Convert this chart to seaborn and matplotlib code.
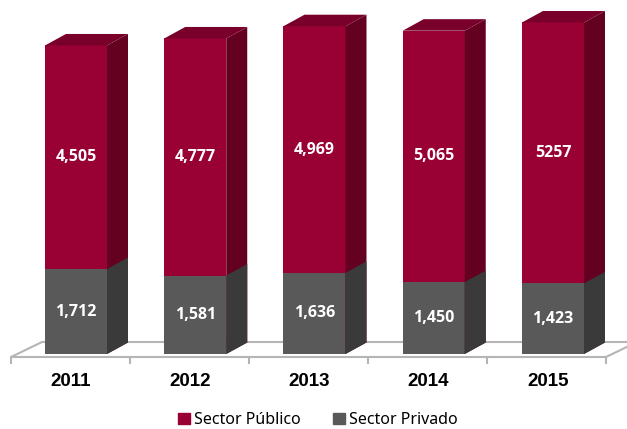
import pandas as pd
import numpy as np
import seaborn as sns
from matplotlib import pyplot as plt
from matplotlib.patches import Polygon, Patch

years = ['2011', '2012', '2013', '2014', '2015']
publico = [4505, 4777, 4969, 5065, 5257]
privado = [1712, 1581, 1636, 1450, 1423]
publico_labels = ['4,505', '4,777', '4,969', '5,065', '5257']
privado_labels = ['1,712', '1,581', '1,636', '1,450', '1,423']

df = pd.DataFrame({'year': years, 'publico': publico, 'privado': privado})
df['total'] = df['publico'] + df['privado']

rojo, rojo_lado, rojo_top = '#990033', '#640020', '#78002a'
gris, gris_lado = '#595959', '#3a3a3a'

fig = plt.figure(figsize=(6.27, 4.29), dpi=100)
ax = fig.add_axes([0, 0, 1, 1])

# barras apiladas: total en rojo, privado encima en gris
sns.barplot(data=df, x='year', y='total', color=rojo, saturation=1, width=0.52,
            linewidth=0, ax=ax, zorder=3)
sns.barplot(data=df, x='year', y='privado', color=gris, saturation=1, width=0.52,
            linewidth=0, ax=ax, zorder=3)
bars = list(ax.patches)

upp = 20.15           # unidades por pixel en y
dx, dy = 0.176, 11.5 * upp   # profundidad del efecto 3d
off = -0.045

# piso
fy, by = -3 * upp, 12 * upp
x0, x1 = -0.5 + off, 4.5 + off - 0.01
piso = Polygon([(x0, fy), (x1, fy), (x1 + 0.26, by), (x0 + 0.26, by)],
               closed=True, facecolor='white', edgecolor='#b5b5b5', lw=1.5, zorder=1)
ax.add_patch(piso)
for k in range(6):
    xt = -0.5 + off + k * (x1 - x0) / 5
    ax.plot([xt, xt], [fy, fy - 6 * upp], color='#b5b5b5', lw=1.5, zorder=1)

n = len(years)
for i, b in enumerate(bars):
    x, w, h = b.get_x(), b.get_width(), b.get_height()
    lado = rojo_lado if i < n else gris_lado
    ax.add_patch(Polygon([(x + w, 0), (x + w + dx, dy), (x + w + dx, h + dy), (x + w, h)],
                         closed=True, facecolor=lado, lw=0, zorder=3))
    if i < n:
        ax.add_patch(Polygon([(x, h), (x + dx, h + dy), (x + w + dx, h + dy), (x + w, h)],
                             closed=True, facecolor=rojo_top, lw=0, zorder=3))

for i in range(n):
    ax.text(i, privado[i] + publico[i] / 2, publico_labels[i], color='white',
            ha='center', va='center', fontsize=11.5, fontweight='bold',
            family='Open Sans', zorder=5)
    ax.text(i, privado[i] / 2, privado_labels[i], color='white',
            ha='center', va='center', fontsize=11.5, fontweight='bold',
            family='Open Sans', zorder=5)
    ax.text(i + off, -28 * upp, years[i], ha='center', va='center', fontsize=13.5,
            fontweight='bold', family='Liberation Sans', color='black')

ax.set_xlim(-76 / 119.25, (627 - 76) / 119.25)
ax.set_ylim(-(429 - 354) * upp, 354 * upp)
ax.axis('off')

handles = [Patch(color=rojo, label='Sector Público'), Patch(color=gris, label='Sector Privado')]
fig.legend(handles=handles, loc='center', bbox_to_anchor=(0.507, 1 - 420 / 429), ncol=2,
           frameon=False, prop={'family': 'Noto Sans', 'size': 11.5},
           handlelength=0.75, handleheight=0.75, handletextpad=0.25, columnspacing=2.0,
           borderpad=0, borderaxespad=0)

plt.savefig('out.png', dpi=100)
